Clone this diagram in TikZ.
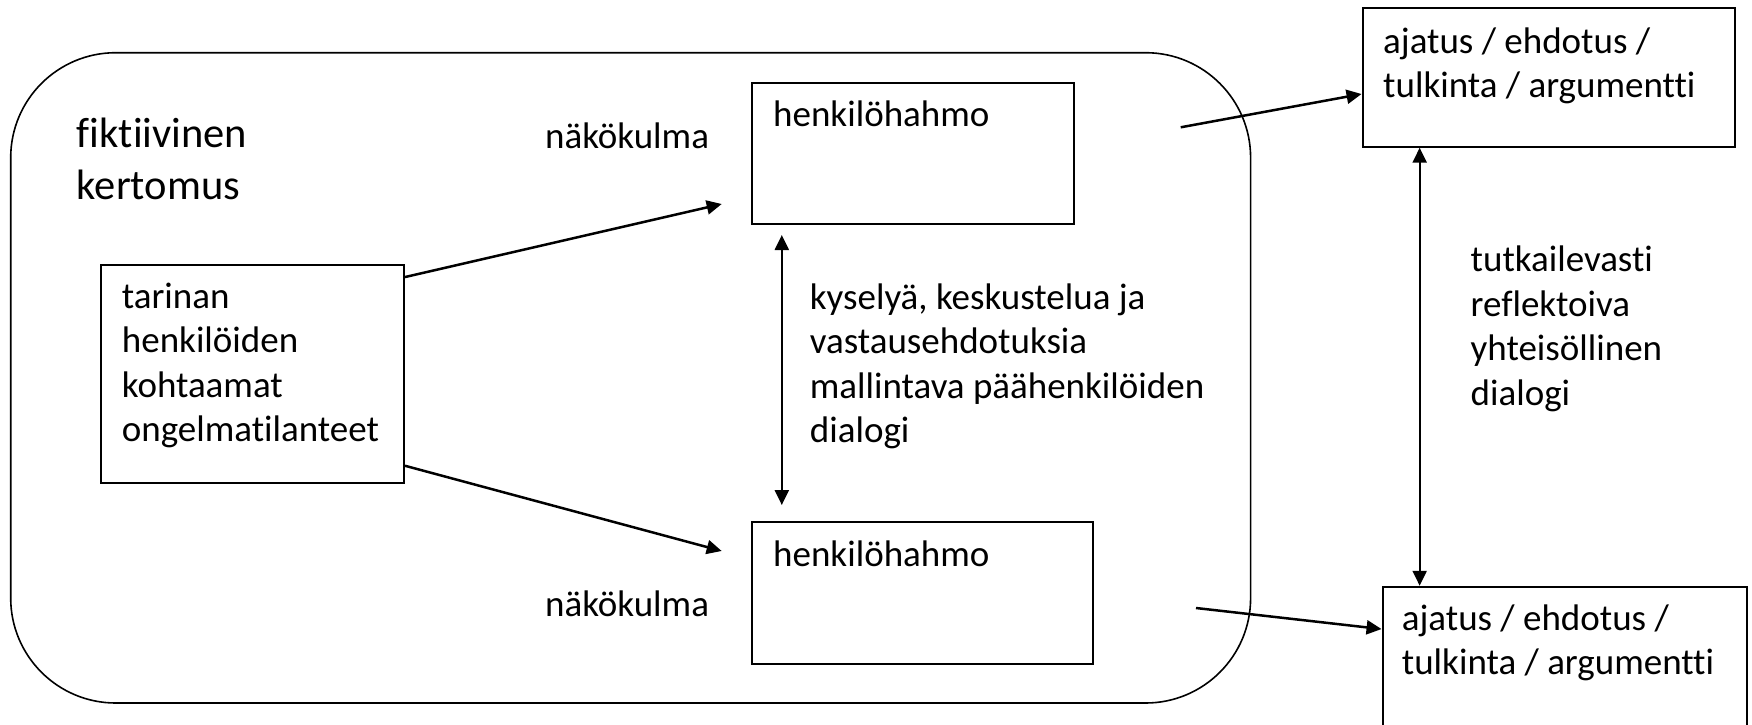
\documentclass[tikz,border=0pt]{standalone}
\usepackage{fontspec}
\setmainfont{Carlito}[Ligatures={NoCommon,NoRare,NoContextual}]
\usetikzlibrary{arrows.meta}
\newcommand{\mlines}[1]{\begin{tabular}[t]{@{}l@{}}#1\end{tabular}}
\tikzset{
  boxnode/.style={draw, line width=2pt, rectangle, inner sep=0pt},
  txt/.style={anchor=base west, inner sep=0pt, font=\fontsize{37}{44.5}\selectfont},
  titletxt/.style={anchor=base west, inner sep=0pt, font=\fontsize{42.5}{52}\selectfont},
  conn/.style={line width=2.5pt, -{Triangle[length=15pt,width=14pt]}},
  dconn/.style={line width=2.2pt, {Triangle[length=15pt,width=14pt]}-{Triangle[length=15pt,width=14pt]}},
}
\begin{document}
\begin{tikzpicture}[x=1pt,y=-1pt]
\useasboundingbox (0,0) rectangle (1752,724);
\clip (0,0) rectangle (1752,724);
% outer frame
\draw[line width=1.6pt, rounded corners=105pt] (10.7,52.7) rectangle (1250.6,703);
% boxes
\node[boxnode, minimum width=302.6pt, minimum height=217.7pt] (left) at (252.7,373.9) {};
\node[boxnode, minimum width=322pt, minimum height=141pt] (htop) at (913,153.8) {};
\node[boxnode, minimum width=341pt, minimum height=141.7pt] (hbot) at (922.5,592.9) {};
\node[boxnode, minimum width=372.5pt, minimum height=138.4pt] (tr) at (1548.8,77.5) {};
\node[boxnode, minimum width=364.5pt, minimum height=153.3pt] (br) at (1564.8,663.4) {};
% texts
\node[titletxt] (title) at (76.7,147.3) {\mlines{fiktiivinen\\kertomus}};
\node[txt] (lefttxt) at (121.7,308) {\mlines{tarinan\\henkilöiden\\kohtaamat\\ongelmatilanteet}};
\node[txt] (htoptxt) at (773,126.7) {henkilöhahmo};
\node[txt] (hbottxt) at (773,566) {henkilöhahmo};
\node[txt] (trtxt) at (1383,53) {\mlines{ajatus / ehdotus /\\tulkinta / argumentti}};
\node[txt] (brtxt) at (1401.7,630) {\mlines{ajatus / ehdotus /\\tulkinta / argumentti}};
\node[txt] (nak1) at (545,148) {näkökulma};
\node[txt] (nak2) at (545,616) {näkökulma};
\node[txt] (midtxt) at (809.7,309) {\mlines{kyselyä, keskustelua ja\\vastausehdotuksia\\mallintava päähenkilöiden\\dialogi}};
\node[txt] (righttxt) at (1470.5,271.7) {\mlines{tutkailevasti\\reflektoiva\\yhteisöllinen\\dialogi}};
% free ends
\coordinate (a1end) at (721.7,204);
\coordinate (a2end) at (721.7,551);
\coordinate (vtop) at (781.8,235);
\coordinate (vbot) at (781.8,505);
\coordinate (r1start) at (1180.7,127.3);
\coordinate (r2start) at (1196,608);
% connectors
\draw[conn] ([yshift=-13pt]left.north east) -- (a1end);
\draw[conn] ([yshift=18pt]left.south east) -- (a2end);
\draw[dconn] (vtop) -- (vbot);
\draw[conn] (r1start) -- ([yshift=-16.5pt]tr.west);
\draw[conn] (r2start) -- ([yshift=-43.3pt]br.north west);
\draw[dconn] ([xshift=58.1pt]tr.south west) -- ([xshift=38.1pt]br.north west);
\end{tikzpicture}
\end{document}
